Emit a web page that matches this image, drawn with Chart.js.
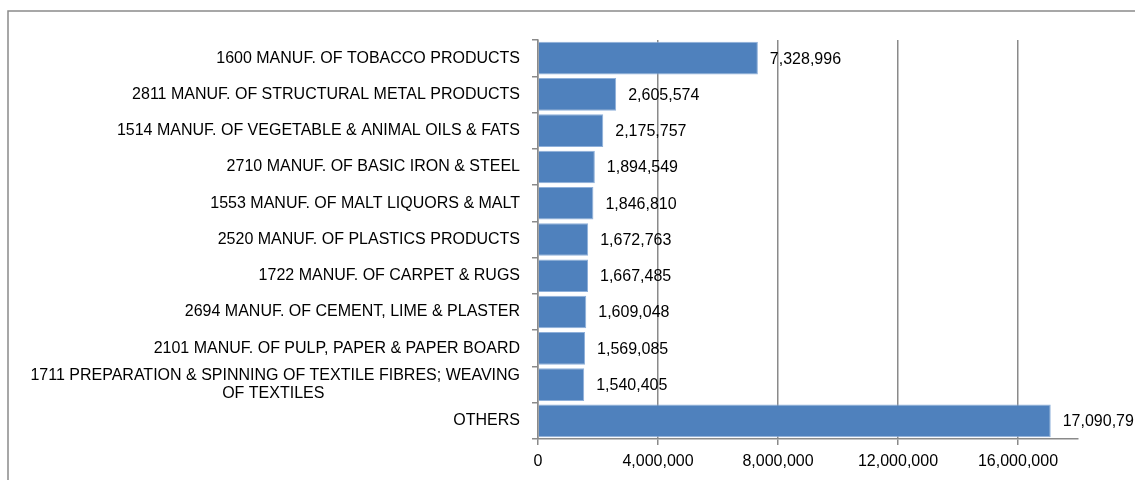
<!DOCTYPE html>
<html>
<head>
<meta charset="utf-8">
<script src="https://cdn.jsdelivr.net/npm/chart.js@4.4.1/dist/chart.umd.min.js"></script>
<style>
  html, body { margin: 0; padding: 0; background: #ffffff; }
  #wrap { position: relative; width: 1135px; height: 480px; }
</style>
</head>
<body>
<div id="wrap"><canvas id="c" width="1135" height="480"></canvas></div>
<script>
const categories = [
  '1600 MANUF. OF TOBACCO PRODUCTS',
  '2811 MANUF. OF STRUCTURAL METAL PRODUCTS',
  '1514 MANUF. OF VEGETABLE & ANIMAL OILS & FATS',
  '2710 MANUF. OF BASIC IRON & STEEL',
  '1553 MANUF. OF MALT LIQUORS & MALT',
  '2520 MANUF. OF PLASTICS PRODUCTS',
  '1722 MANUF. OF CARPET & RUGS',
  '2694 MANUF. OF CEMENT, LIME & PLASTER',
  '2101 MANUF. OF PULP, PAPER & PAPER BOARD',
  ['1711 PREPARATION & SPINNING OF TEXTILE FIBRES; WEAVING', 'OF TEXTILES' + '\u00A0'.repeat(44)],
  'OTHERS'
];
const values = [7328996, 2605574, 2175757, 1894549, 1846810, 1672763, 1667485, 1609048, 1569085, 1540405, 17090791];
const xTicks = [0, 4000000, 8000000, 12000000, 16000000];
const xMax = 18000000;

const FONT = '"Liberation Sans", Arial, sans-serif';
const GRID = '#8a8a8a';

const framePlugin = {
  id: 'frame',
  beforeDraw(chart) {
    const ctx = chart.ctx;
    ctx.save();
    ctx.strokeStyle = '#8a8a8a';
    ctx.lineWidth = 1.5;
    ctx.strokeRect(8, 11, 1300, 700);
    ctx.restore();
  }
};

const valueLabels = {
  id: 'valueLabels',
  afterDatasetsDraw(chart) {
    const ctx = chart.ctx;
    const meta = chart.getDatasetMeta(0);
    ctx.save();
    ctx.font = '16px ' + FONT;
    ctx.fillStyle = '#000000';
    ctx.textAlign = 'left';
    ctx.textBaseline = 'middle';
    meta.data.forEach((bar, i) => {
      ctx.fillText(values[i].toLocaleString('en-US'), bar.x + 12, bar.y + 1);
    });
    ctx.restore();
  }
};

new Chart(document.getElementById('c'), {
  type: 'bar',
  data: {
    labels: categories,
    datasets: [{
      data: values,
      backgroundColor: '#4F81BD',
      borderColor: '#8fb0da',
      borderWidth: 1,
      barPercentage: 0.9,
      categoryPercentage: 1.0
    }]
  },
  options: {
    indexAxis: 'y',
    responsive: false,
    animation: false,
    devicePixelRatio: 1,
    layout: { padding: { left: 0, top: 40, right: 57, bottom: 0 } },
    plugins: { legend: { display: false }, tooltip: { enabled: false } },
    scales: {
      x: {
        min: 0,
        max: xMax,
        afterBuildTicks(scale) { scale.ticks = xTicks.map(v => ({ value: v })); },
        afterFit(scale) { scale.height = 41; },
        grid: { color: GRID, lineWidth: 1.5, tickLength: 6, drawTicks: true },
        border: { color: GRID, width: 1.5 },
        ticks: {
          color: '#000000',
          font: { family: FONT, size: 16 },
          padding: 7,
          maxRotation: 0,
          callback: v => Number(v).toLocaleString('en-US')
        }
      },
      y: {
        afterFit(scale) { scale.width = 538; },
        grid: { display: true, drawOnChartArea: false, offset: true, color: GRID, lineWidth: 1.5, tickLength: 6 },
        border: { color: GRID, width: 1.5 },
        ticks: {
          color: '#000000',
          font: { family: FONT, size: 16, lineHeight: 1.08 },
          padding: 12,
          autoSkip: false
        }
      }
    }
  },
  plugins: [framePlugin, valueLabels]
});
</script>
</body>
</html>
